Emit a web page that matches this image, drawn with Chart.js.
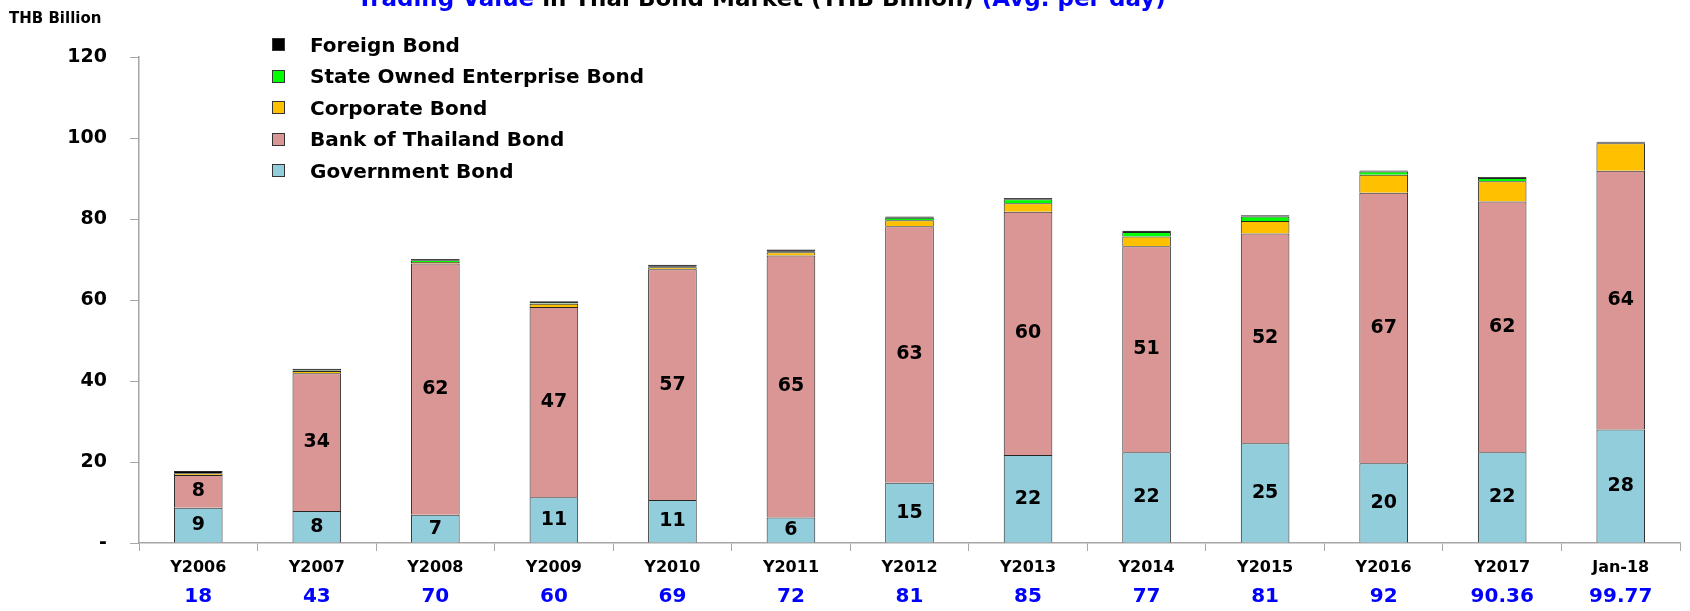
<!DOCTYPE html>
<html>
<head>
<meta charset="utf-8">
<title>Trading Value in Thai Bond Market</title>
<script src="https://cdn.jsdelivr.net/npm/chart.js@4.4.1/dist/chart.umd.min.js"></script>
<style>
    html, body { margin: 0; padding: 0; background: #fff; overflow: hidden; }
    body { width: 1690px; height: 611px; position: relative; font-family: 'DejaVu Sans', sans-serif; font-weight: bold; }
    #wrap { position: absolute; left: 0; top: 0; width: 1690px; height: 611px; }
    #title { position: absolute; left: 357px; top: -16px; font-size: 23px; line-height: 28px; white-space: nowrap; color: #000; }
    .blue { color: #0000ff; }
    #unit { position: absolute; left: 9px; top: 9px; font-size: 15px; line-height: 18px; }
    #legend { position: absolute; left: 272px; top: 29px; }
    .item { height: 31.5px; display: flex; align-items: center; font-size: 20px; }
    .box { width: 11px; height: 11px; border: 1px solid #333; margin-right: 25px; }
</style>
</head>
<body>
<div id="wrap"><canvas id="chart" width="1690" height="611"></canvas></div>
<div id="title"><span class="blue">Trading Value</span> in Thai Bond Market (THB Billion) <span class="blue">(Avg. per day)</span></div>
<div id="unit">THB Billion</div>
<div id="legend"></div>
<script>
// categories and the total printed under each one
const categories = ['Y2006', 'Y2007', 'Y2008', 'Y2009', 'Y2010', 'Y2011', 'Y2012', 'Y2013', 'Y2014', 'Y2015', 'Y2016', 'Y2017', 'Jan-18'];
const totals = ['18', '43', '70', '60', '69', '72', '81', '85', '77', '81', '92', '90.36', '99.77'];

// THB billion, average per day
const government = [8.7, 7.9, 7.0, 11.3, 10.6, 6.3, 14.9, 21.7, 22.4, 24.6, 19.7, 22.4, 28.0];
const bankOfThailand = [8.1, 34.0, 62.0, 47.0, 57.0, 64.7, 63.3, 60.1, 50.9, 51.8, 66.8, 61.9, 63.9];
const corporate = [0.4, 0.6, 0.4, 0.8, 0.5, 0.8, 1.5, 2.1, 2.4, 3.1, 4.4, 5.0, 6.8];
const stateOwned = [0.1, 0.1, 0.4, 0.1, 0.1, 0.1, 0.6, 1.0, 1.1, 1.1, 0.8, 0.8, 0.1];
const foreign = [0.5, 0.4, 0.3, 0.5, 0.5, 0.6, 0.3, 0.3, 0.3, 0.3, 0.3, 0.3, 0.3];

const yTicks = [0, 20, 40, 60, 80, 100, 120];

const series = [
    { label: 'Government Bond', data: government, color: '#92cddc' },
    { label: 'Bank of Thailand Bond', data: bankOfThailand, color: '#da9694' },
    { label: 'Corporate Bond', data: corporate, color: '#ffc000' },
    { label: 'State Owned Enterprise Bond', data: stateOwned, color: '#00ff00' },
    { label: 'Foreign Bond', data: foreign, color: '#000000' }
];

const axisGray = '#a6a6a6';

// numbers inside the government and BOT segments
const segmentLabels = {
    id: 'segmentLabels',
    afterDatasetsDraw(chart) {
        const ctx = chart.ctx;
        ctx.save();
        ctx.font = 'bold 19px "DejaVu Sans"';
        ctx.fillStyle = '#000';
        ctx.textAlign = 'center';
        ctx.textBaseline = 'middle';
        [0, 1].forEach(i => {
            chart.getDatasetMeta(i).data.forEach((bar, j) => {
                const v = chart.data.datasets[i].data[j];
                ctx.fillText(String(Math.round(v)), bar.x, (bar.y + bar.base) / 2);
            });
        });
        ctx.restore();
    }
};

new Chart(document.getElementById('chart'), {
    type: 'bar',
    data: {
        labels: categories,
        datasets: series.map(s => ({
            label: s.label,
            data: s.data,
            backgroundColor: s.color,
            borderColor: '#262626',
            borderWidth: 1,
            barPercentage: 0.41,
            categoryPercentage: 1
        }))
    },
    options: {
        responsive: false,
        animation: false,
        layout: { padding: { top: 57, right: 10, bottom: 0, left: 0 } },
        plugins: { legend: { display: false }, tooltip: { enabled: false } },
        scales: {
            x: {
                stacked: true,
                weight: 0,
                grid: { drawOnChartArea: false, tickLength: 8, color: axisGray, offset: true },
                border: { color: axisGray, width: 1.5 },
                ticks: { color: '#000', padding: 7, font: { family: 'DejaVu Sans', weight: 'bold', size: 16 } },
                afterFit(scale) { scale.height = 36; }
            },
            x2: {
                type: 'category',
                labels: totals,
                position: 'bottom',
                weight: 1,
                offset: true,
                grid: { display: false, drawTicks: false },
                border: { display: false },
                ticks: { color: '#0000ff', padding: 6, font: { family: 'DejaVu Sans', weight: 'bold', size: 20 } },
                afterFit(scale) { scale.height = 32; }
            },
            y: {
                stacked: true,
                min: 0,
                max: 120,
                afterBuildTicks(scale) { scale.ticks = yTicks.map(v => ({ value: v })); },
                grid: { drawOnChartArea: false, tickLength: 9, color: axisGray },
                border: { color: axisGray, width: 1.5 },
                ticks: {
                    color: '#000',
                    padding: 23,
                    font: { family: 'DejaVu Sans', weight: 'bold', size: 19 },
                    callback: v => v === 0 ? '-' : v
                },
                afterFit(scale) { scale.width = 139; }
            }
        }
    },
    plugins: [segmentLabels]
});

// legend, top entry is the top of the stack
const legend = document.getElementById('legend');
series.slice().reverse().forEach(s => {
    const item = document.createElement('div');
    item.className = 'item';
    const box = document.createElement('span');
    box.className = 'box';
    box.style.background = s.color;
    item.appendChild(box);
    item.appendChild(document.createTextNode(s.label));
    legend.appendChild(item);
});
</script>
</body>
</html>
